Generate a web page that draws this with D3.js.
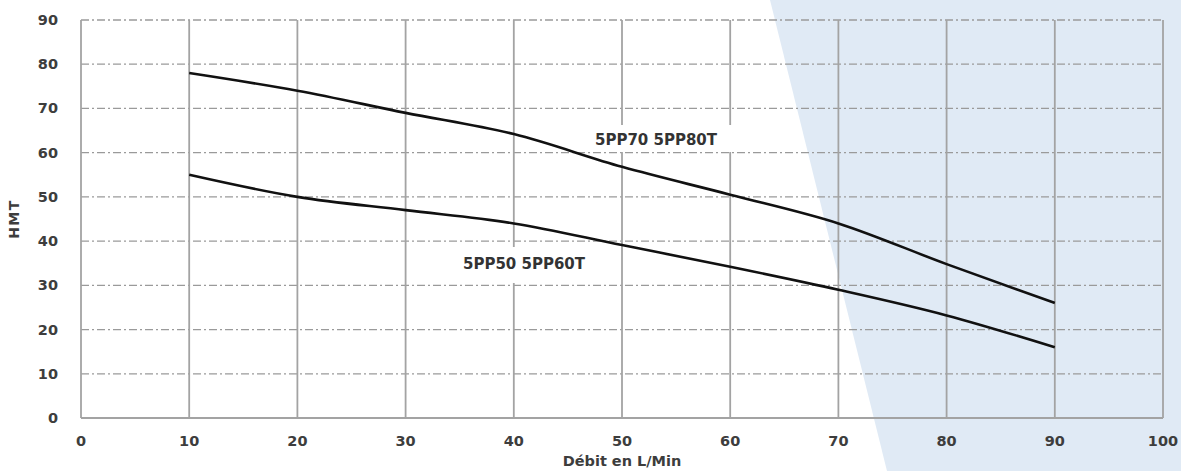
<!DOCTYPE html>
<html><head><meta charset="utf-8">
<script src="https://cdn.jsdelivr.net/npm/d3@7"></script>
<style>
html,body{margin:0;padding:0;background:#fff;}
svg{display:block;}
text{font-family:"DejaVu Sans",Verdana,sans-serif;font-weight:bold;fill:#3d3d3d;}
</style></head>
<body>
<svg id="c" width="1181" height="471"></svg>
<script>
const flowValues = [10, 20, 30, 40, 50, 60, 70, 80, 90];
const seriesUpper = [78, 74, 69, 64.2, 56.8, 50.5, 44, 34.8, 26];
const seriesLower = [55, 50, 47, 44, 39.1, 34.2, 29, 23.2, 16];
const seriesNames = ["5PP70 5PP80T", "5PP50 5PP60T"];
const xTicks = [0, 10, 20, 30, 40, 50, 60, 70, 80, 90, 100];
const yTicks = [0, 10, 20, 30, 40, 50, 60, 70, 80, 90];
const xTitle = "Débit en L/Min";
const yTitle = "HMT";

const W = 1181, H = 471;
const m = {left: 81, right: 18, top: 20, bottom: 53};
const svg = d3.select("#c");

// background decorative band
svg.append("path")
  .attr("d", "M770,0 L887,471 L1181,471 L1181,0 Z")
  .attr("fill", "#e0eaf5");

const x = d3.scaleLinear().domain([0, 100]).range([m.left, W - m.right]);
const y = d3.scaleLinear().domain([0, 90]).range([H - m.bottom, m.top]);

// horizontal dash-dot gridlines
svg.append("g").selectAll("line").data(yTicks.filter(d => d > 0)).join("line")
  .attr("x1", x(0)).attr("x2", x(100))
  .attr("y1", d => y(d)).attr("y2", d => y(d))
  .attr("stroke", "#9a9a9a").attr("stroke-width", 1.3)
  .attr("stroke-dasharray", "8,3,2,3");

// vertical solid gridlines
svg.append("g").selectAll("line").data(xTicks).join("line")
  .attr("x1", d => x(d)).attr("x2", d => x(d))
  .attr("y1", y(90)).attr("y2", y(0))
  .attr("stroke", "#a3a3a3").attr("stroke-width", 1.8);

// bottom axis line
svg.append("line")
  .attr("x1", x(0)).attr("x2", x(100)).attr("y1", y(0)).attr("y2", y(0))
  .attr("stroke", "#a3a3a3").attr("stroke-width", 1.8);

// label backgrounds (white boxes behind series labels)
const labelPos = [
  {name: seriesNames[0], cx: 656, cy: 140, x0: 590, x1: 740, y0: 125, y1: 152},
  {name: seriesNames[1], cx: 524, cy: 264, x0: 455, x1: 596, y0: 247, y1: 283}
];
svg.append("g").selectAll("rect").data(labelPos).join("rect")
  .attr("x", d => d.x0).attr("y", d => d.y0)
  .attr("width", d => d.x1 - d.x0).attr("height", d => d.y1 - d.y0)
  .attr("fill", "#fff");

// curves
const line = d3.line().x((d, i) => x(flowValues[i])).y(d => y(d)).curve(d3.curveMonotoneX);
[seriesUpper, seriesLower].forEach(s => {
  svg.append("path").datum(s).attr("d", line)
    .attr("fill", "none").attr("stroke", "#111").attr("stroke-width", 2.6);
});

// series labels
svg.append("g").selectAll("text").data(labelPos).join("text")
  .attr("x", d => d.cx).attr("y", d => d.cy)
  .attr("text-anchor", "middle").attr("dominant-baseline", "central")
  .attr("font-size", 15).style("fill", "#333")
  .text(d => d.name);

// y tick labels
svg.append("g").selectAll("text").data(yTicks).join("text")
  .attr("x", 58).attr("y", d => y(d))
  .attr("text-anchor", "end").attr("dominant-baseline", "central")
  .attr("font-size", 14.5)
  .text(d => d);

// x tick labels
svg.append("g").selectAll("text").data(xTicks).join("text")
  .attr("x", d => x(d)).attr("y", 441)
  .attr("text-anchor", "middle").attr("dominant-baseline", "central")
  .attr("font-size", 14.5)
  .text(d => d);

// axis titles
svg.append("text").attr("x", x(50)).attr("y", 461)
  .attr("text-anchor", "middle").attr("dominant-baseline", "central")
  .attr("font-size", 14.5).text(xTitle);

svg.append("text")
  .attr("transform", "translate(14,219) rotate(-90)")
  .attr("text-anchor", "middle").attr("dominant-baseline", "central")
  .attr("font-size", 14).attr("letter-spacing", 1.5).text(yTitle);
</script>
</body></html>
